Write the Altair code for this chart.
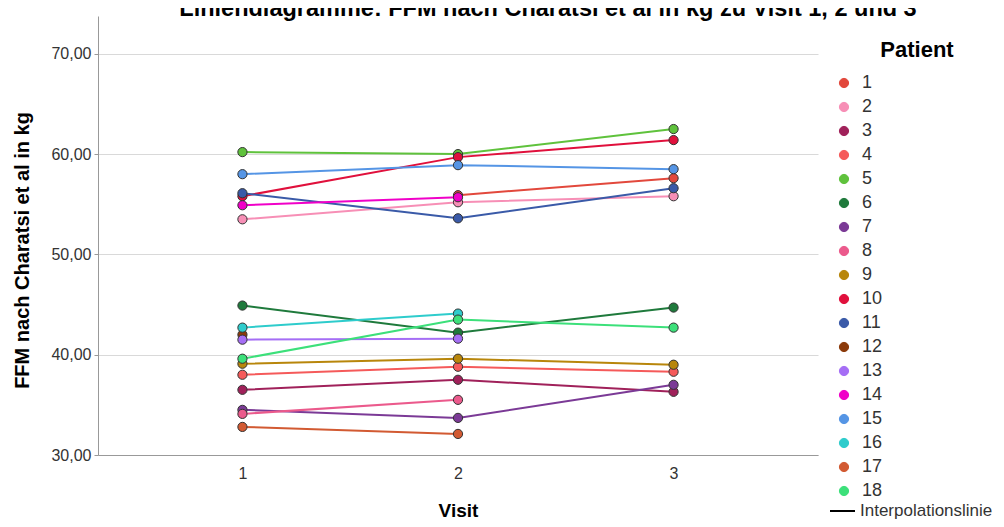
import altair as alt
import pandas as pd

title_text = "Liniendiagramme: FFM nach Charatsi et al in kg zu Visit 1, 2 und 3"
y_title = "FFM nach Charatsi et al in kg"
x_title = "Visit"
legend_title = "Patient"
interp_label = "Interpolationslinie"

visits = ["1", "2", "3"]
patients = [str(i) for i in range(1, 19)]
visit1 = [None, 53.5, 36.5, 38.0, 60.2, 44.9, 34.5, 34.1, 39.1, 55.8, 56.1, 42.0, 41.5, 54.9, 58.0, 42.7, 32.8, 39.6]
visit2 = [55.9, 55.2, 37.5, 38.8, 60.0, 42.2, 33.7, 35.5, 39.6, 59.7, 53.6, None, 41.6, 55.7, 58.9, 44.1, 32.1, 43.5]
visit3 = [57.6, 55.8, 36.3, 38.3, 62.5, 44.7, 37.0, None, 39.0, 61.4, 56.6, None, None, None, 58.5, None, None, 42.7]
colors = ["#E2483C", "#F78FB6", "#A0215A", "#F55A5A", "#5FC23C", "#1F7A3C",
          "#7B3A96", "#EB5A8C", "#B8860B", "#E0103C", "#3A5AA8", "#8B3A0A",
          "#A56EF5", "#F000C8", "#5595E5", "#2ECCCC", "#D25A32", "#3CE07A"]
y_ticks = [30, 40, 50, 60, 70]

rows = []
for p, a, b, c in zip(patients, visit1, visit2, visit3):
    for v, val in zip(visits, [a, b, c]):
        if val is not None:
            rows.append({"Patient": p, "Visit": v, "FFM": val})
df = pd.DataFrame(rows)

FONT = "Liberation Sans"
W, H = 720, 439

color_scale = alt.Scale(domain=patients, range=colors)
x_enc = alt.X("Visit:O", sort=visits,
              scale=alt.Scale(type="point", padding=0.67),
              axis=alt.Axis(title=x_title, labelAngle=0, ticks=False, grid=False,
                            domainColor="#999", labelFontSize=16, labelColor="#333",
                            labelPadding=10, titleFontSize=19, titleFontWeight="bold",
                            titleColor="#000", titlePadding=20, labelFont=FONT, titleFont=FONT))
y_enc = alt.Y("FFM:Q",
              scale=alt.Scale(domain=[30, 73.77], nice=False, zero=False),
              axis=alt.Axis(title=y_title, values=y_ticks,
                            labelExpr="replace(format(datum.value, '.2f'), '.', ',')",
                            grid=True, gridColor="#d9d9d9", domainColor="#999",
                            tickColor="#999", tickSize=4, labelPadding=3,
                            labelFontSize=16, labelColor="#333", titleFontSize=20,
                            titleFontWeight="bold", titleColor="#000", titlePadding=18,
                            titleY=234, labelFont=FONT, titleFont=FONT))

legend = alt.Legend(orient="none", legendX=737, legendY=58, title=None,
                    labelFontSize=18, labelColor="#333", labelFont=FONT,
                    symbolSize=85, symbolType="circle",
                    symbolStrokeColor="#333", symbolStrokeWidth=1,
                    symbolOpacity=1, labelOffset=9, rowPadding=6,
                    padding=0, labelLimit=0)
color_enc = alt.Color("Patient:N", scale=color_scale, sort=patients, legend=legend)

base = alt.Chart(df)
lines = base.mark_line(strokeWidth=2).encode(
    x=x_enc, y=y_enc, color=color_enc, order=alt.Order("Visit:O"),
)
points = base.mark_circle(size=85, opacity=1, stroke="#333", strokeWidth=1).encode(
    x=x_enc, y=y_enc, color=color_enc,
)

title_df = pd.DataFrame({"t": [title_text]})
title = alt.Chart(title_df).mark_text(font=FONT, fontSize=23.5, fontWeight="bold",
                                      align="center", baseline="alphabetic", color="#000").encode(
    text="t:N", x=alt.value(450), y=alt.value(0))

ltitle_df = pd.DataFrame({"t": [legend_title]})
ltitle = alt.Chart(ltitle_df).mark_text(font=FONT, fontSize=22, fontWeight="bold",
                                        align="center", baseline="middle", color="#000").encode(
    text="t:N", x=alt.value(819), y=alt.value(34))

interp_df = pd.DataFrame({"t": [interp_label]})
interp_line = alt.Chart(interp_df).mark_rule(color="#000", strokeWidth=2).encode(
    x=alt.value(732), x2=alt.value(757), y=alt.value(495))
interp_text = alt.Chart(interp_df).mark_text(font=FONT, fontSize=17, align="left",
                                             baseline="middle", color="#333").encode(
    text="t:N", x=alt.value(762), y=alt.value(495))

chart = alt.layer(lines, points, title, ltitle, interp_line, interp_text).properties(
    width=W, height=H,
    autosize=alt.AutoSizeParams(type="none"),
    padding={"left": 90, "top": 8, "right": 178, "bottom": 64},
    background="white",
).configure_view(stroke=None)

chart.save("out.html", embed_options={"renderer": "svg", "actions": False})
